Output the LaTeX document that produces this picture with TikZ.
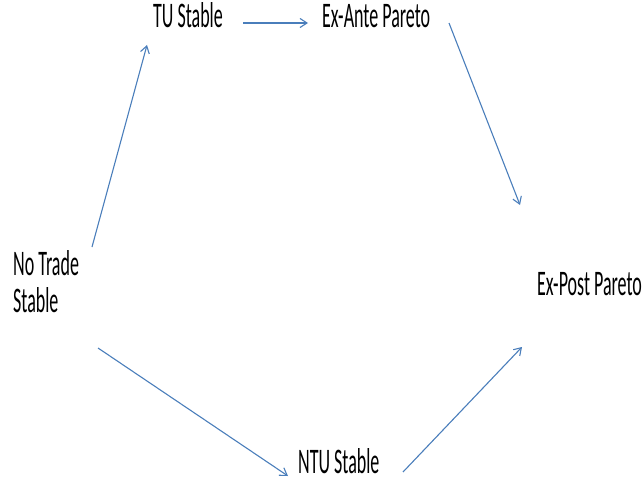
\documentclass[tikz,border=0pt]{standalone}
\usepackage{fontspec}
\setmainfont{Carlito}[FakeStretch=0.5]
\usetikzlibrary{arrows.meta}
\definecolor{arrowblue}{RGB}{74,126,187}
\begin{document}
\begin{tikzpicture}[x=1pt,y=-1pt,
  lbl/.style={inner sep=0pt,font=\fontsize{36}{37}\selectfont,anchor=base west},
  conn/.style={draw=arrowblue,line width=1.1pt,-{Straight Barb[length=7pt,width=9pt]}}]
\useasboundingbox (0,0) rectangle (644,489);
\node[lbl] (tu) at (153,28) {TU Stable};
\node[lbl] (exante) at (322,28) {Ex-Ante Pareto};
\node[lbl] (expost) at (537,295) {Ex-Post Pareto};
\node[lbl] (ntu) at (298,473) {NTU Stable};
\node[lbl,align=left] (notrade) at (13,312) {No Trade\\Stable};
\draw[conn] ([shift={(79,-65)}]notrade.base west) -- ([shift={(-6,17)}]tu.base west);
\draw[conn] ([shift={(90,-5)}]tu.base west) -- ([shift={(-14,-5)}]exante.base west);
\draw[conn] ([shift={(127,-5)}]exante.base west) -- ([shift={(-17,-90)}]expost.base west);
\draw[conn] ([shift={(85,36)}]notrade.base west) -- ([shift={(-10,3)}]ntu.base west);
\draw[conn] ([shift={(105,-1)}]ntu.base west) -- ([shift={(-15,52)}]expost.base west);
\end{tikzpicture}
\end{document}
